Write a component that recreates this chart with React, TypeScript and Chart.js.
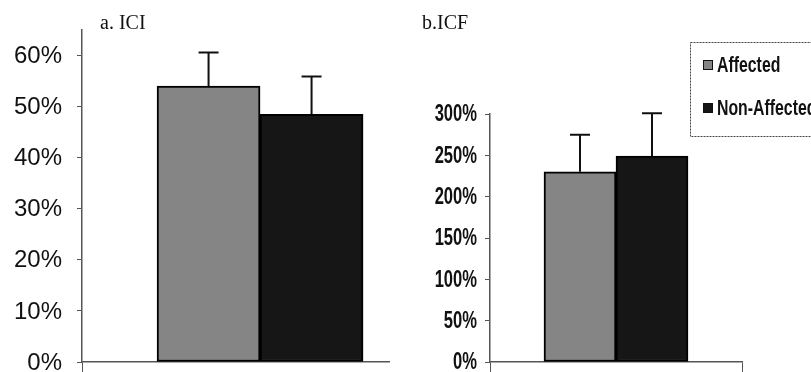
import React, { useEffect, useRef } from 'react';
import { Chart, registerables } from 'chart.js';
Chart.register(...registerables);

// ---- data ----
const seriesNames = ['Affected', 'Non-Affected'];
const panelTitles = ['a. ICI', 'b.ICF'];
const iciMeans = [54, 48.5];
const iciErrors = [6.6, 7.4];
const icfMeans = [230, 249];
const icfErrors = [45, 52];
const iciTicks = [0, 10, 20, 30, 40, 50, 60];
const icfTicks = [0, 50, 100, 150, 200, 250, 300];

const barColors = ['#858585', '#161616'];
const axisColor = '#555';
const sansFont = '"Liberation Sans", Arial, sans-serif';

type PanelProps = {
  width: number;
  height: number;
  title: string;
  means: number[];
  errors: number[];
  ticks: number[];
  yMax: number;
  groupCenter: number;
  barThickness: number;
  yAxisWidth: number;
  padTop: number;
  padRight: number;
  tickSize: number;
  tickWeight: string;
  tickSqueeze: number;
  tickGap: number;
  titleX: number;
  xEndTicks: number[];
  showLegend: boolean;
};

function Panel(p: PanelProps) {
  const ref = useRef<HTMLCanvasElement | null>(null);
  useEffect(() => {
    if (!ref.current) return;
    const errorBars = {
      id: 'errorBars',
      afterDatasetsDraw(chart: any) {
        const ctx = chart.ctx;
        const ys = chart.scales.y;
        chart.data.datasets.forEach((ds: any, i: number) => {
          const meta = chart.getDatasetMeta(i);
          const bar: any = meta.data[0];
          const top = ys.getPixelForValue(p.means[i] + p.errors[i]);
          ctx.save();
          ctx.strokeStyle = '#111';
          ctx.lineWidth = 2;
          ctx.beginPath();
          ctx.moveTo(bar.x, bar.y);
          ctx.lineTo(bar.x, top);
          ctx.moveTo(bar.x - 10, top);
          ctx.lineTo(bar.x + 10, top);
          ctx.stroke();
          ctx.restore();
        });
      },
    };
    const labelsPlugin = {
      id: 'squeezedLabels',
      afterDraw(chart: any) {
        const ctx = chart.ctx;
        const ys = chart.scales.y;
        ctx.save();
        ctx.fillStyle = '#111';
        ctx.font = p.tickWeight + ' ' + p.tickSize + 'px ' + sansFont;
        ctx.textAlign = 'right';
        ctx.textBaseline = 'middle';
        const xr = chart.chartArea.left - p.tickGap;
        ys.ticks.forEach((t: any) => {
          const y = ys.getPixelForValue(t.value);
          ctx.save();
          ctx.translate(xr, y);
          ctx.scale(p.tickSqueeze, 1);
          ctx.fillText(t.value + '%', 0, 1);
          ctx.restore();
        });
        // panel title
        ctx.font = '20px "Liberation Serif", "Times New Roman", serif';
        ctx.textBaseline = 'alphabetic';
        ctx.textAlign = 'left';
        ctx.fillText(p.title, p.titleX, 29);
        ctx.restore();
      },
    };
    const legendPlugin = {
      id: 'boxLegend',
      afterDraw(chart: any) {
        if (!p.showLegend) return;
        const ctx = chart.ctx;
        ctx.save();
        ctx.strokeStyle = '#444';
        ctx.lineWidth = 1;
        ctx.setLineDash([2, 1]);
        ctx.strokeRect(290.5, 42.5, 130, 94);
        ctx.setLineDash([]);
        ctx.font = 'bold 22px ' + sansFont;
        ctx.textBaseline = 'middle';
        ctx.textAlign = 'left';
        chart.data.datasets.forEach((ds: any, i: number) => {
          const cy = 65 + i * 43;
          ctx.fillStyle = ds.backgroundColor;
          ctx.fillRect(303, cy - 5, 10, 10);
          ctx.strokeStyle = '#111';
          ctx.strokeRect(303.5, cy - 4.5, 9, 9);
          ctx.fillStyle = '#111';
          ctx.save();
          ctx.translate(317, cy + 1);
          ctx.scale(0.72, 1);
          ctx.fillText(ds.label, 0, 0);
          ctx.restore();
        });
        ctx.restore();
      },
    };
    const chart = new Chart(ref.current, {
      type: 'bar',
      data: {
        datasets: seriesNames.map((name, i) => ({
          label: name,
          data: [{ x: p.groupCenter, y: p.means[i] }],
          backgroundColor: barColors[i],
          borderColor: '#000',
          borderWidth: 2,
          borderSkipped: false,
          barThickness: p.barThickness,
        })),
      },
      options: {
        responsive: false,
        animation: false,
        devicePixelRatio: 1,
        layout: { padding: { top: p.padTop, right: p.padRight, left: 0, bottom: 0 } },
        plugins: {
          legend: { display: false },
          tooltip: { enabled: false },
          title: { display: false },
        },
        scales: {
          x: {
            type: 'linear',
            min: 0,
            max: 1,
            offset: false,
            ticks: { display: false },
            grid: { display: true, offset: false, drawOnChartArea: false, tickLength: 10, color: axisColor },
            border: { display: true, color: axisColor, width: 1.5 },
            afterBuildTicks: (s: any) => {
              s.ticks = p.xEndTicks.map((v) => ({ value: v }));
            },
            afterFit: (s: any) => {
              s.height = 10;
              s.paddingLeft = 0;
              s.paddingRight = 0;
            },
          },
          y: {
            type: 'linear',
            min: 0,
            max: p.yMax,
            ticks: { display: false },
            grid: { display: true, drawOnChartArea: false, tickLength: 5, color: axisColor },
            border: { display: true, color: axisColor, width: 1.5 },
            afterBuildTicks: (s: any) => {
              s.ticks = p.ticks.map((v) => ({ value: v }));
            },
            afterFit: (s: any) => {
              s.width = p.yAxisWidth;
              s.paddingTop = 0;
              s.paddingBottom = 0;
            },
          },
        },
      } as any,
      plugins: [errorBars, labelsPlugin, legendPlugin],
    });
    return () => chart.destroy();
  }, []);
  return <canvas ref={ref} width={p.width} height={p.height} style={{ display: 'block' }} />;
}

export default function App() {
  return (
    <div style={{ position: 'fixed', left: 0, top: 0, width: 811, height: 372, background: '#fff', display: 'flex' }}>
      <Panel
        width={400}
        height={372}
        title={panelTitles[0]}
        means={iciMeans}
        errors={iciErrors}
        ticks={iciTicks}
        yMax={65}
        groupCenter={0.58}
        barThickness={103}
        yAxisWidth={82}
        padTop={30}
        padRight={11}
        tickSize={24}
        tickWeight="normal"
        tickSqueeze={1}
        tickGap={20}
        titleX={100}
        xEndTicks={[0]}
        showLegend={false}
      />
      <Panel
        width={411}
        height={372}
        title={panelTitles[1]}
        means={icfMeans}
        errors={icfErrors}
        ticks={icfTicks}
        yMax={300}
        groupCenter={0.5}
        barThickness={72}
        yAxisWidth={90}
        padTop={114}
        padRight={69}
        tickSize={23}
        tickWeight="bold"
        tickSqueeze={0.72}
        tickGap={13}
        titleX={22}
        xEndTicks={[0, 1]}
        showLegend={true}
      />
    </div>
  );
}
